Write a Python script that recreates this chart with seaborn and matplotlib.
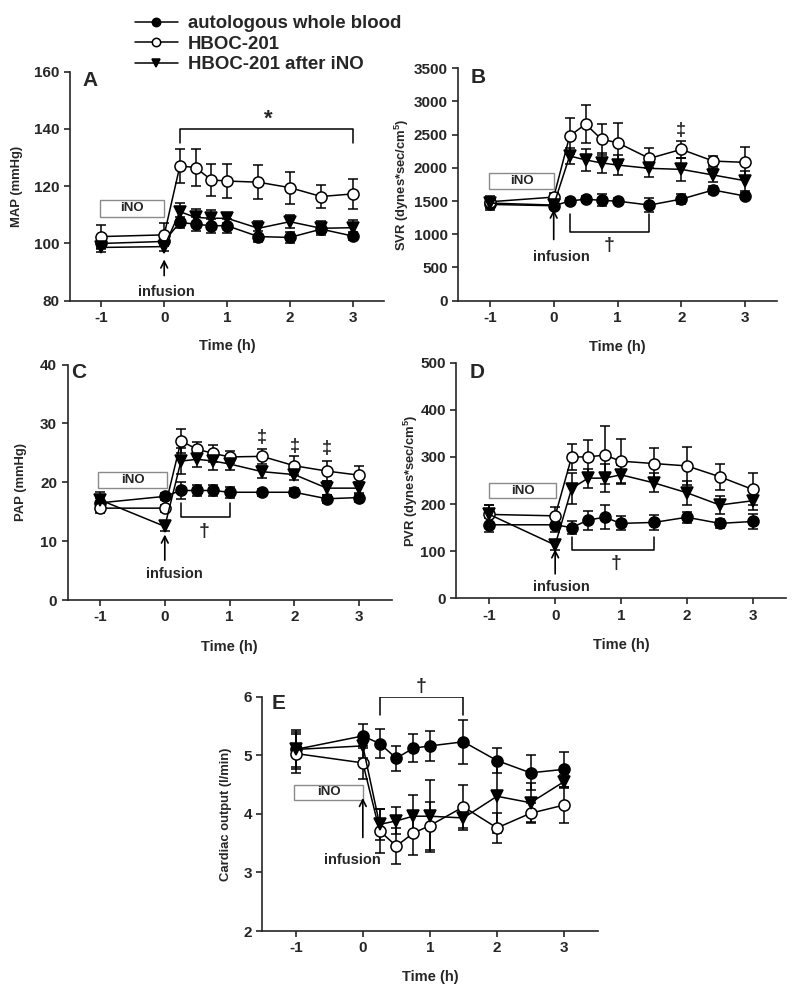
import matplotlib
matplotlib.use("Agg")
import matplotlib.pyplot as plt
import seaborn as sns
import numpy as np
from matplotlib.patches import Rectangle

sns.set_style("ticks")
plt.rcParams['font.family'] = ['Liberation Sans', 'DejaVu Sans']
plt.rcParams['font.weight'] = 'bold'
plt.rcParams['mathtext.default'] = 'regular'

time_h = [-1, 0, 0.25, 0.5, 0.75, 1, 1.5, 2, 2.5, 3]
series_names = ["autologous whole blood", "HBOC-201", "HBOC-201 after iNO"]

# Panel A: MAP (mmHg)
map_wb = [100, 100.7, 107.4, 106.7, 106.2, 106.2, 102.4, 102.1, 105.0, 102.6]
map_hb = [102.4, 103, 127.1, 126.5, 122.2, 121.8, 121.4, 119.5, 116.4, 117.3]
map_ino = [98.6, 98.9, 111.1, 109.1, 108.8, 108.8, 105.3, 107.6, 105.3, 105.5]
map_wb_err = [1.5, 1.5, 2, 2.5, 2.5, 2.5, 2, 2, 1.5, 1.5]
map_hb_err = [4.2, 4, 6, 6.4, 5.5, 5.9, 5.9, 5.6, 4.1, 5.2]
map_ino_err = [1.5, 1.5, 3.2, 3, 2.8, 1.8, 2.5, 2.2, 2.5, 2.8]

# Panel B: SVR
svr_wb = [1450, 1430, 1500, 1530, 1510, 1500, 1440, 1530, 1667, 1576]
svr_hb = [1490, 1560, 2480, 2660, 2430, 2380, 2143, 2279, 2103, 2083]
svr_ino = [1470, 1440, 2180, 2120, 2075, 2043, 1993, 1978, 1893, 1807]
svr_wb_err = [80, 50, 50, 40, 90, 40, 110, 80, 60, 50]
svr_hb_err = [80, 60, 270, 290, 230, 300, 150, 125, 75, 230]
svr_ino_err = [80, 50, 120, 170, 150, 150, 130, 170, 110, 150]

# Panel C: PAP (mmHg)
pap_wb = [16.5, 17.6, 18.6, 18.6, 18.6, 18.3, 18.3, 18.3, 17.2, 17.4]
pap_hb = [15.6, 15.6, 27.0, 25.6, 24.9, 24.3, 24.4, 22.8, 21.9, 21.2]
pap_ino = [17.0, 12.5, 23.6, 23.9, 23.6, 23.1, 21.8, 21.3, 19.0, 19.0]
pap_wb_err = [0.8, 0.6, 1.4, 1.0, 1.0, 0.9, 0.6, 0.7, 0.7, 0.7]
pap_hb_err = [0.9, 0.6, 2.1, 1.2, 1.5, 1.0, 1.3, 1.6, 1.7, 1.5]
pap_ino_err = [1.3, 0.7, 2.2, 1.3, 1.5, 1.0, 1.0, 1.0, 1.2, 1.0]

# Panel D: PVR
pvr_wb = [156, 156, 150, 166, 172, 159, 161, 172, 159, 163]
pvr_hb = [178, 175, 300, 300, 304, 291, 286, 281, 258, 231]
pvr_ino = [178, 113, 233, 255, 255, 262, 245, 224, 198, 207]
pvr_wb_err = [15, 15, 13, 20, 25, 15, 15, 12, 10, 15]
pvr_hb_err = [20, 19, 27, 36, 62, 47, 34, 41, 28, 34]
pvr_ino_err = [21, 10, 32, 20, 30, 20, 20, 25, 20, 20]

# Panel E: Cardiac output (l/min)
co_wb = [5.10, 5.33, 5.20, 4.95, 5.12, 5.16, 5.23, 4.91, 4.70, 4.76]
co_hb = [5.03, 4.87, 3.71, 3.45, 3.67, 3.80, 4.12, 3.76, 4.01, 4.15]
co_ino = [5.10, 5.16, 3.82, 3.88, 3.96, 3.96, 3.93, 4.30, 4.19, 4.55]
co_wb_err = [0.33, 0.2, 0.25, 0.21, 0.24, 0.26, 0.38, 0.22, 0.3, 0.3]
co_hb_err = [0.33, 0.28, 0.37, 0.31, 0.37, 0.41, 0.37, 0.25, 0.17, 0.31]
co_ino_err = [0.3, 0.2, 0.26, 0.23, 0.36, 0.61, 0.2, 0.62, 0.33, 0.11]

fig = plt.figure(figsize=(8.0, 9.96), dpi=100)

styles = [dict(marker='o', markerfacecolor='black'),
          dict(marker='o', markerfacecolor='white'),
          dict(marker='v', markerfacecolor='black')]


def draw_panel(ax, vals, errs, ylim, yticks, ylabel, letter, letter_xy, ylabel_x):
    for (v, e, st, name) in zip(vals, errs, styles, series_names):
        ax.errorbar(time_h, v, yerr=e, fmt='none', ecolor='black', elinewidth=1.1,
                    capsize=3.5, capthick=1.1, zorder=2)
        sns.lineplot(x=time_h, y=v, ax=ax, color='black', linewidth=1.1,
                     markersize=8, markeredgecolor='black', markeredgewidth=1.1,
                     label=name, legend=False, zorder=3, **st)
    ax.set_xlim(-1.5, 3.5)
    ax.set_ylim(*ylim)
    ax.set_xticks([-1, 0, 1, 2, 3])
    ax.set_xticklabels(['-1', '0', '1', '2', '3'])
    ax.set_yticks(yticks)
    ax.tick_params(axis='both', labelsize=11, width=1.2, length=4, direction='out')
    for lab in ax.get_xticklabels() + ax.get_yticklabels():
        lab.set_fontweight('bold')
    ax.set_xlabel('Time (h)', fontsize=10.5, fontweight='bold')
    ax.set_ylabel(ylabel, fontsize=9.4, fontweight='bold')
    ax.yaxis.set_label_coords(ylabel_x, 0.5)
    ax.xaxis.set_label_coords(0.5, -0.168)
    sns.despine(ax=ax)
    for sp in ['left', 'bottom']:
        ax.spines[sp].set_linewidth(1.2)
    ax.text(letter_xy[0], letter_xy[1], letter, transform=ax.transAxes, fontsize=15,
            fontweight='bold', ha='center', va='center')


def ino_box(ax, x0, x1, y0, y1):
    ax.add_patch(Rectangle((x0, y0), x1 - x0, y1 - y0, facecolor='white',
                           edgecolor='#8a8a8a', linewidth=1.0, zorder=4))
    ax.text((x0 + x1) / 2, (y0 + y1) / 2, 'iNO', fontsize=9.5, fontweight='bold',
            ha='center', va='center', zorder=5)


def infusion(ax, tip, tail, tx, ty):
    ax.annotate('', xy=(0, tip), xytext=(0, tail),
                arrowprops=dict(arrowstyle='->', lw=1.2, color='black',
                                mutation_scale=12), zorder=5)
    ax.text(tx, ty, 'infusion', fontsize=10.5, fontweight='bold', ha='center',
            va='center')


def bracket(ax, x0, x1, y, yend):
    ax.plot([x0, x0, x1, x1], [yend, y, y, yend], color='black', lw=1.1, zorder=2)


def sym(ax, x, y, s, size=13):
    ax.text(x, y, s, fontsize=size, ha='center', va='center', fontweight='bold',
            family=['Liberation Sans', 'DejaVu Sans'])


W, H = 800.0, 996.0

# A
axA = fig.add_axes([70 / W, 1 - 300.7 / H, 314 / W, 229 / H])
draw_panel(axA, [map_wb, map_hb, map_ino], [map_wb_err, map_hb_err, map_ino_err],
           (80, 160), [80, 100, 120, 140, 160], 'MAP (mmHg)', 'A', (0.064, 0.96), -0.149)
ino_box(axA, -1.03, 0.0, 109.4, 115.2)
infusion(axA, 95.4, 87.8, 0.03, 83)
bracket(axA, 0.25, 3, 140, 135)
sym(axA, 1.65, 143.5, '*', 16)

# B
axB = fig.add_axes([458 / W, 1 - 300.7 / H, 319 / W, 232.4 / H])
draw_panel(axB, [svr_wb, svr_hb, svr_ino], [svr_wb_err, svr_hb_err, svr_ino_err],
           (0, 3500), list(range(0, 3501, 500)), 'SVR (dynes*sec/cm$^{5}$)', 'B',
           (0.063, 0.96), -0.148)
ino_box(axB, -1.01, 0.0, 1677, 1918)
infusion(axB, 1415, 880, 0.12, 663)
bracket(axB, 0.25, 1.5, 1035, 1300)
sym(axB, 0.875, 830, '\u2020', 14)
sym(axB, 2, 2570, '\u2021', 13)

# C
axC = fig.add_axes([67.6 / W, 1 - 600 / H, 324 / W, 235.5 / H])
draw_panel(axC, [pap_wb, pap_hb, pap_ino], [pap_wb_err, pap_hb_err, pap_ino_err],
           (0, 40), [0, 10, 20, 30, 40], 'PAP (mmHg)', 'C', (0.035, 0.965), -0.124)
ino_box(axC, -1.03, 0.04, 19.0, 21.7)
infusion(axC, 11.6, 6.3, 0.15, 4.5)
bracket(axC, 0.25, 1.0, 14.1, 16.5)
sym(axC, 0.61, 11.6, '\u2020', 14)
for xx, yy in [(1.5, 27.6), (2, 26.1), (2.5, 25.7)]:
    sym(axC, xx, yy, '\u2021', 13)

# D
axD = fig.add_axes([456.4 / W, 1 - 598.3 / H, 329.2 / W, 235.6 / H])
draw_panel(axD, [pvr_wb, pvr_hb, pvr_ino], [pvr_wb_err, pvr_hb_err, pvr_ino_err],
           (0, 500), [0, 100, 200, 300, 400, 500], 'PVR (dynes*sec/cm$^{5}$)', 'D',
           (0.063, 0.96), -0.112)
ino_box(axD, -1.0, 0.015, 212, 245)
infusion(axD, 110, 46, 0.09, 25)
bracket(axD, 0.25, 1.5, 103, 131)
sym(axD, 0.92, 74, '\u2020', 14)

# E
axE = fig.add_axes([262.2 / W, 1 - 931 / H, 335.4 / W, 234.3 / H])
draw_panel(axE, [co_wb, co_hb, co_ino], [co_wb_err, co_hb_err, co_ino_err],
           (2, 6), [2, 3, 4, 5, 6], 'Cardiac output (l/min)', 'E', (0.05, 0.97), -0.09)
ino_box(axE, -1.02, 0.0, 4.24, 4.49)
infusion(axE, 4.32, 3.55, -0.16, 3.22)
bracket(axE, 0.25, 1.5, 5.99, 5.69)
sym(axE, 0.87, 6.17, '\u2020', 14)

handles = axA.get_lines()
handles = [h for h in handles if h.get_label() in series_names][:3]
leg = fig.legend(handles, series_names, loc='upper left',
                 bbox_to_anchor=(135 / W, 1 - 15 / H), frameon=False,
                 prop=dict(family='Liberation Sans', weight='bold', size=13.4),
                 handlelength=2.3, handletextpad=0.55, labelspacing=0.19,
                 borderpad=0, borderaxespad=0, markerscale=0.75)

fig.savefig('out.png', dpi=100)
